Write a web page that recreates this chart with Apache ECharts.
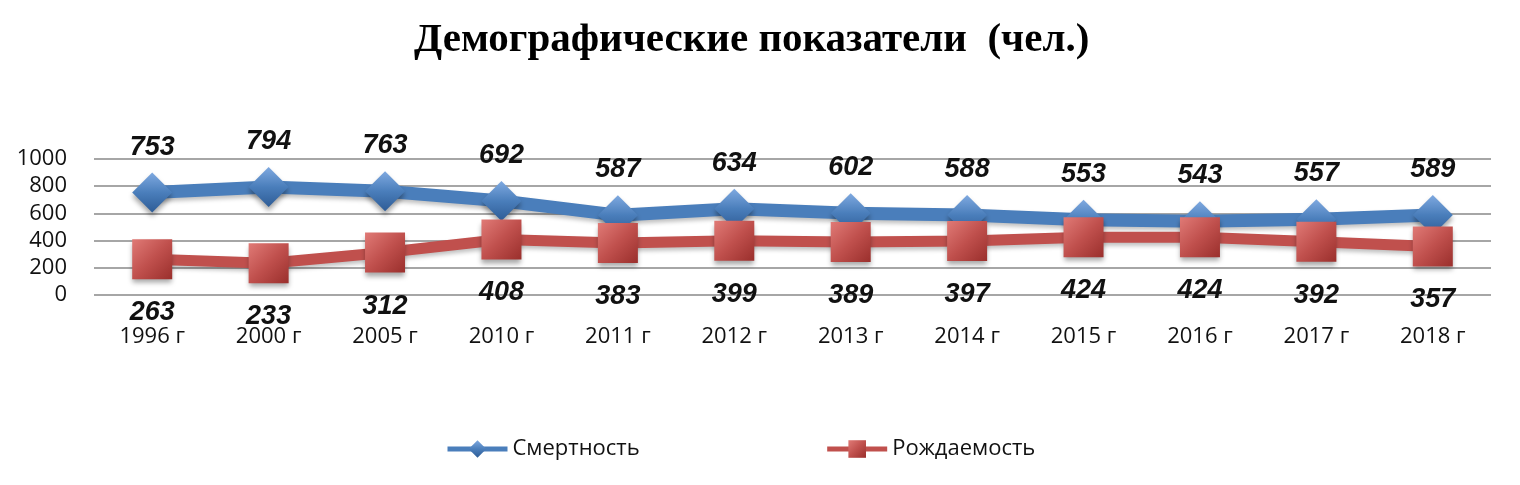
<!DOCTYPE html>
<html><head><meta charset="utf-8">
<script src="https://cdn.jsdelivr.net/npm/echarts@6/dist/echarts.min.js"></script>
<style>html,body{margin:0;padding:0;background:#fff}#c{width:1520px;height:485px}</style>
</head><body><div id="c"></div>
<script>
const categories = ['1996 г','2000 г','2005 г','2010 г','2011 г','2012 г','2013 г','2014 г','2015 г','2016 г','2017 г','2018 г'];
const mortality = [753,794,763,692,587,634,602,588,553,543,557,589];
const births = [263,233,312,408,383,399,389,397,424,424,392,357];
const yTicks = [0,200,400,600,800,1000];

const chart = echarts.init(document.getElementById('c'));
const lblFont = {fontFamily:'Liberation Sans', fontSize:27, fontWeight:'bold', fontStyle:'italic', color:'#111'};
chart.setOption({
  animation:false,
  title:{text:'Демографические показатели  (чел.)', left:409, top:15,
    textStyle:{fontFamily:'Liberation Serif', fontWeight:'bold', fontSize:41, color:'#000'}},
  grid:{left:94, right:29, top:159, bottom:190},
  legend:{bottom:20, left:440, itemGap:185, itemWidth:60, itemHeight:22,
    textStyle:{fontFamily:'Open Sans', fontSize:22, color:'#111'},
    lineStyle:{width:5},
    data:['Смертность','Рождаемость']},
  xAxis:{type:'category', data:categories, boundaryGap:true,
    axisLine:{show:false}, axisTick:{show:false},
    axisLabel:{margin:31, fontFamily:'Open Sans', fontSize:22, color:'#111'}},
  yAxis:{type:'value', min:0, max:1000, interval:200,
    axisLine:{show:false}, axisTick:{show:false},
    axisLabel:{margin:27, fontFamily:'Open Sans', fontSize:22, color:'#111',
      formatter:v=>yTicks.includes(v)?String(v):''},
    splitLine:{lineStyle:{color:'#888', width:1.5}}},
  series:[
    {name:'Смертность', type:'line', data:mortality, symbol:'diamond', symbolSize:[40,40],
     lineStyle:{color:'#4a7ebb', width:13, shadowColor:'rgba(0,0,0,0.25)', shadowBlur:4, shadowOffsetY:3},
     itemStyle:{color:{type:'linear',x:0,y:0,x2:0,y2:1,colorStops:[{offset:0,color:'#7fa9e0'},{offset:0.5,color:'#4a7ebb'},{offset:1,color:'#2e5c96'}]},
       shadowColor:'rgba(0,0,0,0.35)', shadowBlur:5, shadowOffsetY:4},
     label:{show:true, position:'top', distance:12, ...lblFont}},
    {name:'Рождаемость', type:'line', data:births, symbol:'rect', symbolSize:[40,40],
     lineStyle:{color:'#c0504d', width:11, shadowColor:'rgba(0,0,0,0.25)', shadowBlur:4, shadowOffsetY:3},
     itemStyle:{color:{type:'linear',x:0,y:0,x2:1,y2:1,colorStops:[{offset:0,color:'#e07a76'},{offset:0.5,color:'#c0504d'},{offset:1,color:'#9a2f2c'}]},
       shadowColor:'rgba(0,0,0,0.35)', shadowBlur:5, shadowOffsetY:4},
     label:{show:true, position:'bottom', distance:20, ...lblFont}}
  ]
});
</script></body></html>
